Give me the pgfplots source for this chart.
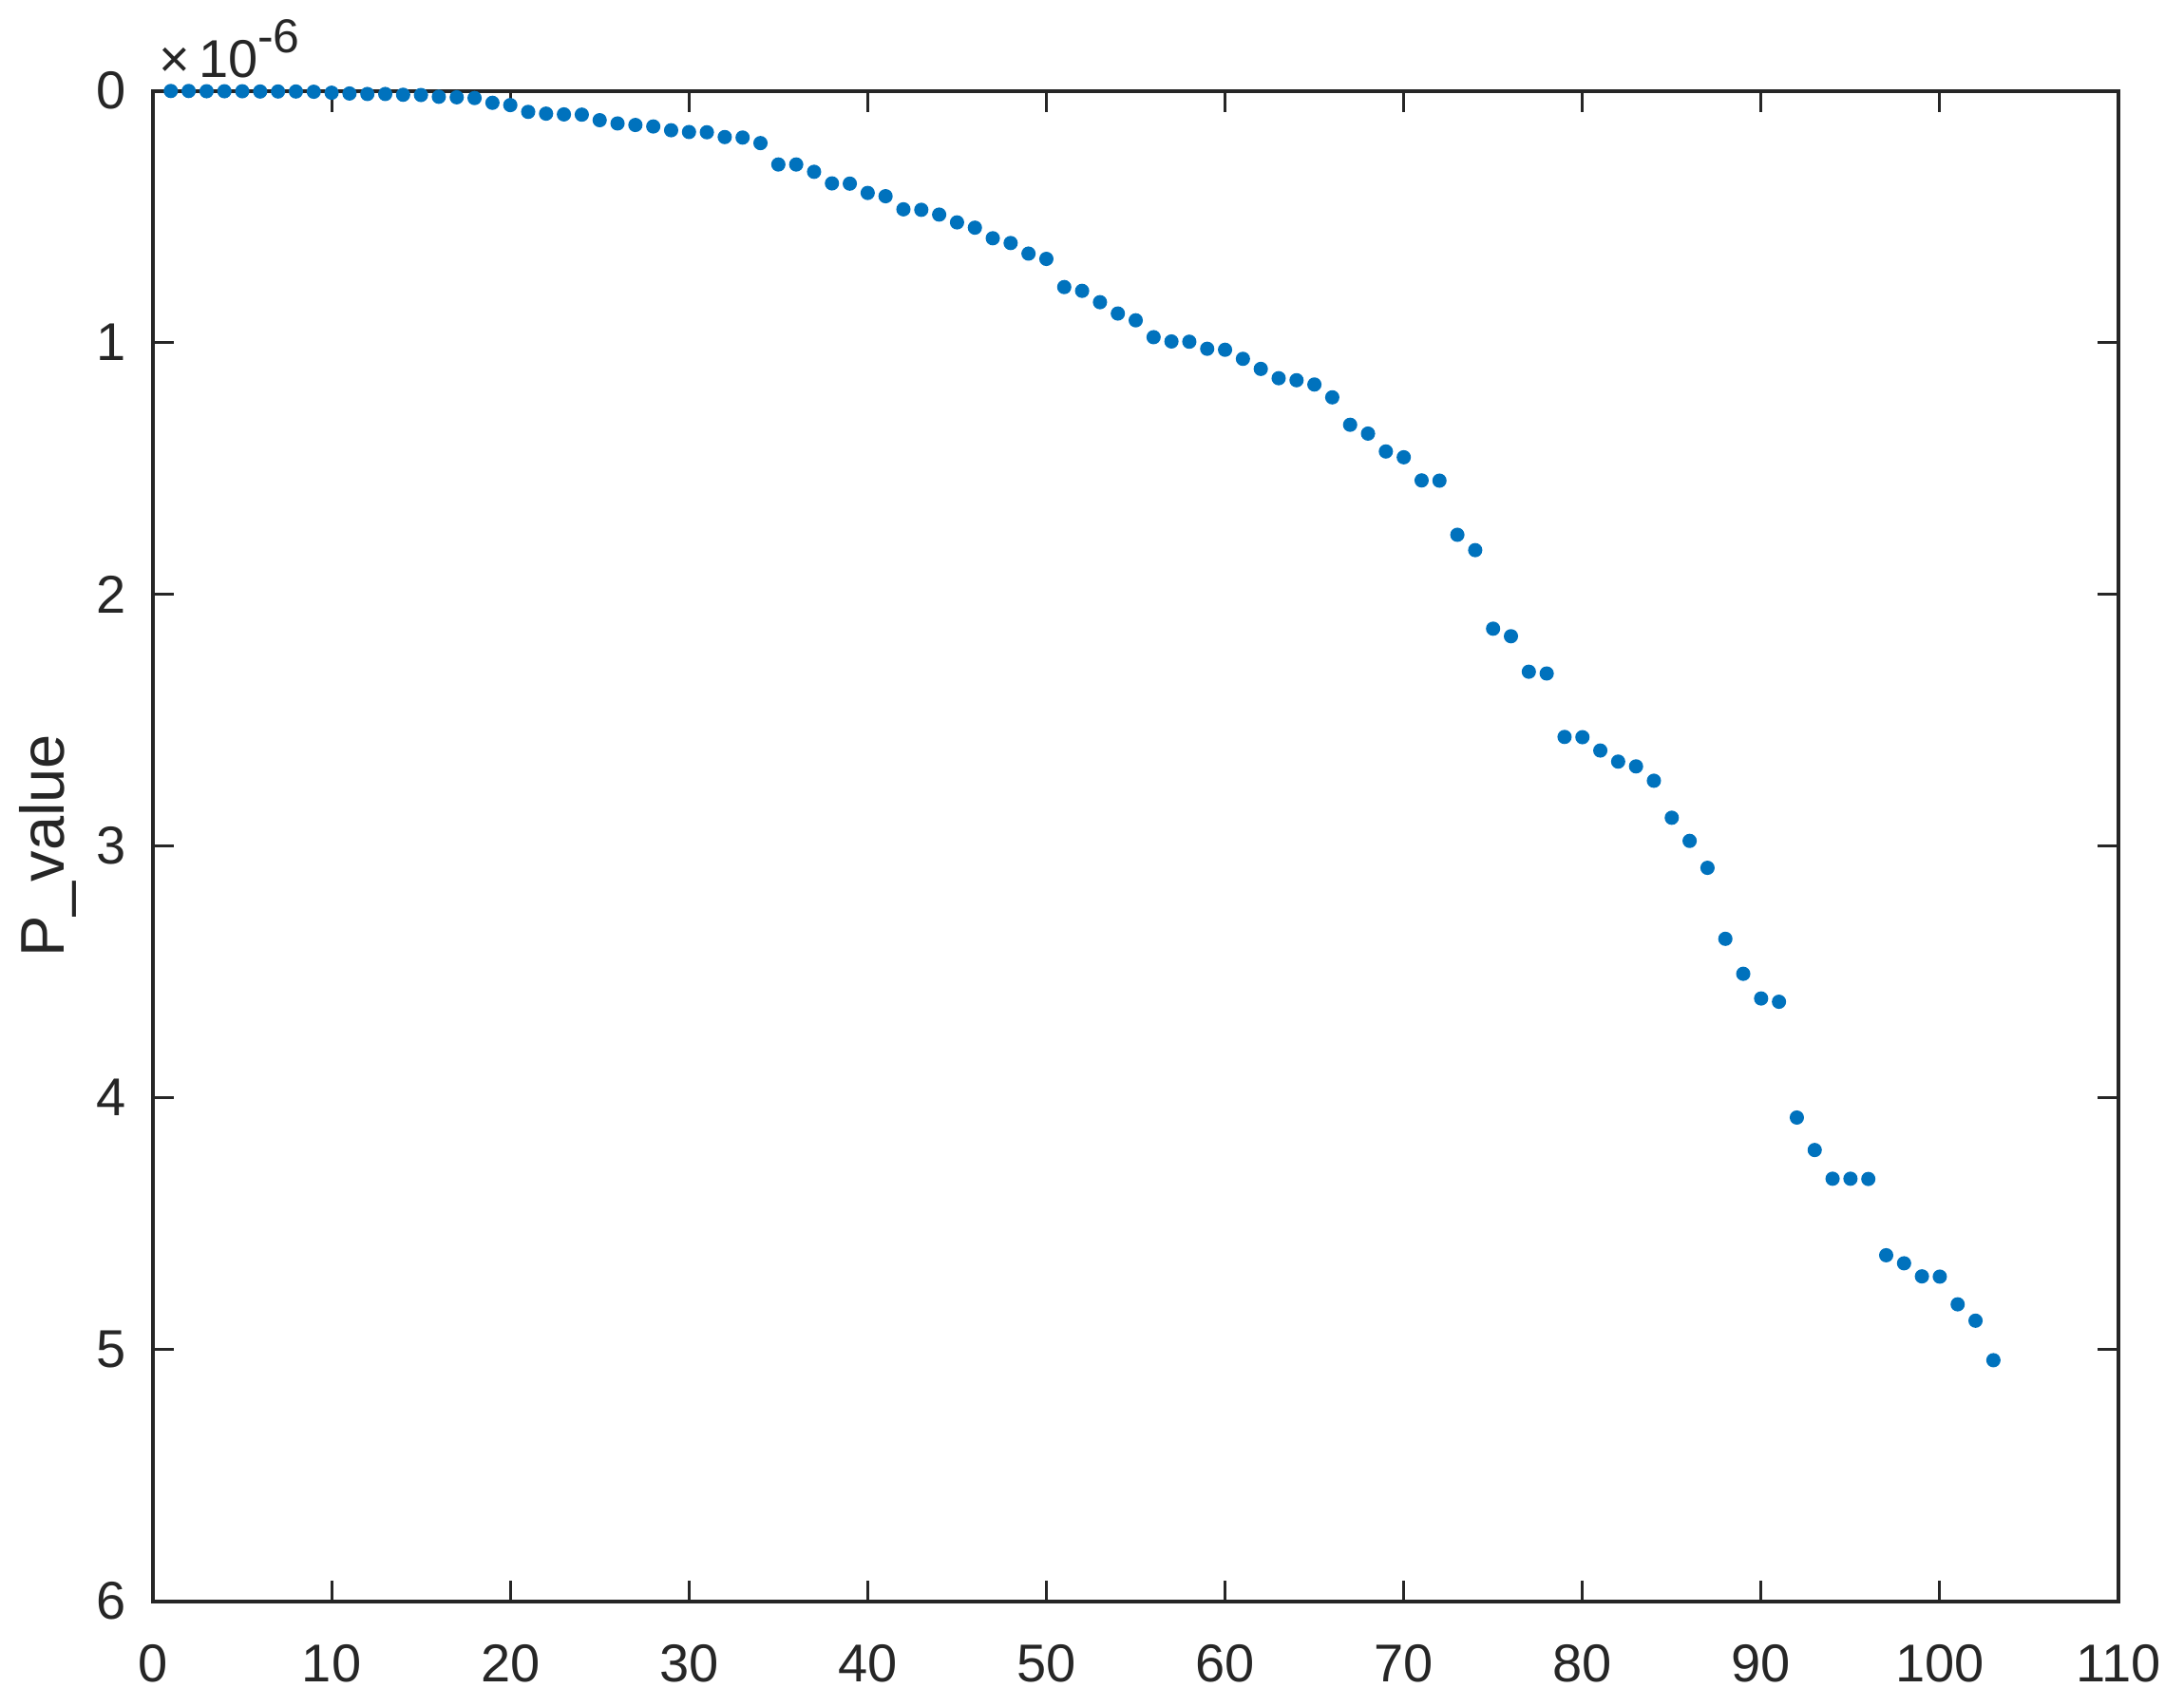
\documentclass[border=0pt]{standalone}
\usepackage{fontspec}
\setmainfont{Liberation Sans}
\usepackage{pgfplots}
\usepackage{pgfplotstable}
\pgfplotsset{compat=1.18}
\definecolor{mblue}{HTML}{0072BD}
\definecolor{axgray}{HTML}{262626}

% P values, in units of 1e-6
\pgfplotstableread{
n p
1 0.001
2 0.001
3 0.002
4 0.002
5 0.002
6 0.003
7 0.003
8 0.003
9 0.004
10 0.008
11 0.011
12 0.013
13 0.013
14 0.016
15 0.017
16 0.024
17 0.026
18 0.029
19 0.048
20 0.057
21 0.084
22 0.091
23 0.094
24 0.095
25 0.117
26 0.130
27 0.136
28 0.142
29 0.157
30 0.164
31 0.165
32 0.184
33 0.186
34 0.208
35 0.293
36 0.293
37 0.322
38 0.368
39 0.369
40 0.406
41 0.419
42 0.471
43 0.473
44 0.492
45 0.523
46 0.544
47 0.586
48 0.605
49 0.647
50 0.668
51 0.780
52 0.795
53 0.840
54 0.885
55 0.912
56 0.979
57 0.996
58 0.997
59 1.025
60 1.029
61 1.065
62 1.105
63 1.142
64 1.150
65 1.167
66 1.218
67 1.327
68 1.362
69 1.433
70 1.456
71 1.548
72 1.549
73 1.764
74 1.825
75 2.137
76 2.167
77 2.308
78 2.315
79 2.567
80 2.568
81 2.621
82 2.665
83 2.684
84 2.741
85 2.888
86 2.980
87 3.087
88 3.369
89 3.508
90 3.606
91 3.619
92 4.079
93 4.208
94 4.322
95 4.322
96 4.323
97 4.626
98 4.658
99 4.710
100 4.711
101 4.821
102 4.886
103 5.043
}\pvals

\begin{document}
\begin{tikzpicture}
\useasboundingbox (-32.2pt,-22.2pt) rectangle (427.6pt,337.1pt);
\begin{axis}[
  at={(0,0)}, anchor=south west,
  scale only axis, width=413.8pt, height=318pt,
  xmin=0, xmax=110, ymin=0, ymax=6,
  y dir=reverse,
  xtick distance=10, ytick distance=1,
  tick align=inside, major tick length=4.4pt,
  axis line style={axgray, line width=0.8pt},
  every tick/.style={axgray, line width=0.6pt},
  tick label style={font=\fontsize{11.2}{13}\selectfont, text=axgray},
  /pgf/number format/assume math mode=true,
  xticklabel style={yshift=-5.6pt},
  yticklabel style={xshift=-2.2pt},
  ylabel={P\_value},
  ylabel style={at={(axis description cs:-0.045,0.5)}, anchor=base,
    font=\fontsize{13}{15}\selectfont, text=axgray},
  scaled y ticks=false,
  clip=false,
]
\addplot[only marks, mark=*, mark size=1.3pt, mblue, mark options={draw=mblue, fill=mblue}]
  table[x=n, y=p] {\pvals};
\node[anchor=base west, text=axgray, inner sep=0pt, font=\fontsize{11.2}{13}\selectfont]
  at (rel axis cs:0,1) [xshift=1pt, yshift=2.8pt]
  {×\,10\raisebox{5.3pt}{\fontsize{10}{12}\selectfont -6}};
\end{axis}
\end{tikzpicture}
\end{document}
